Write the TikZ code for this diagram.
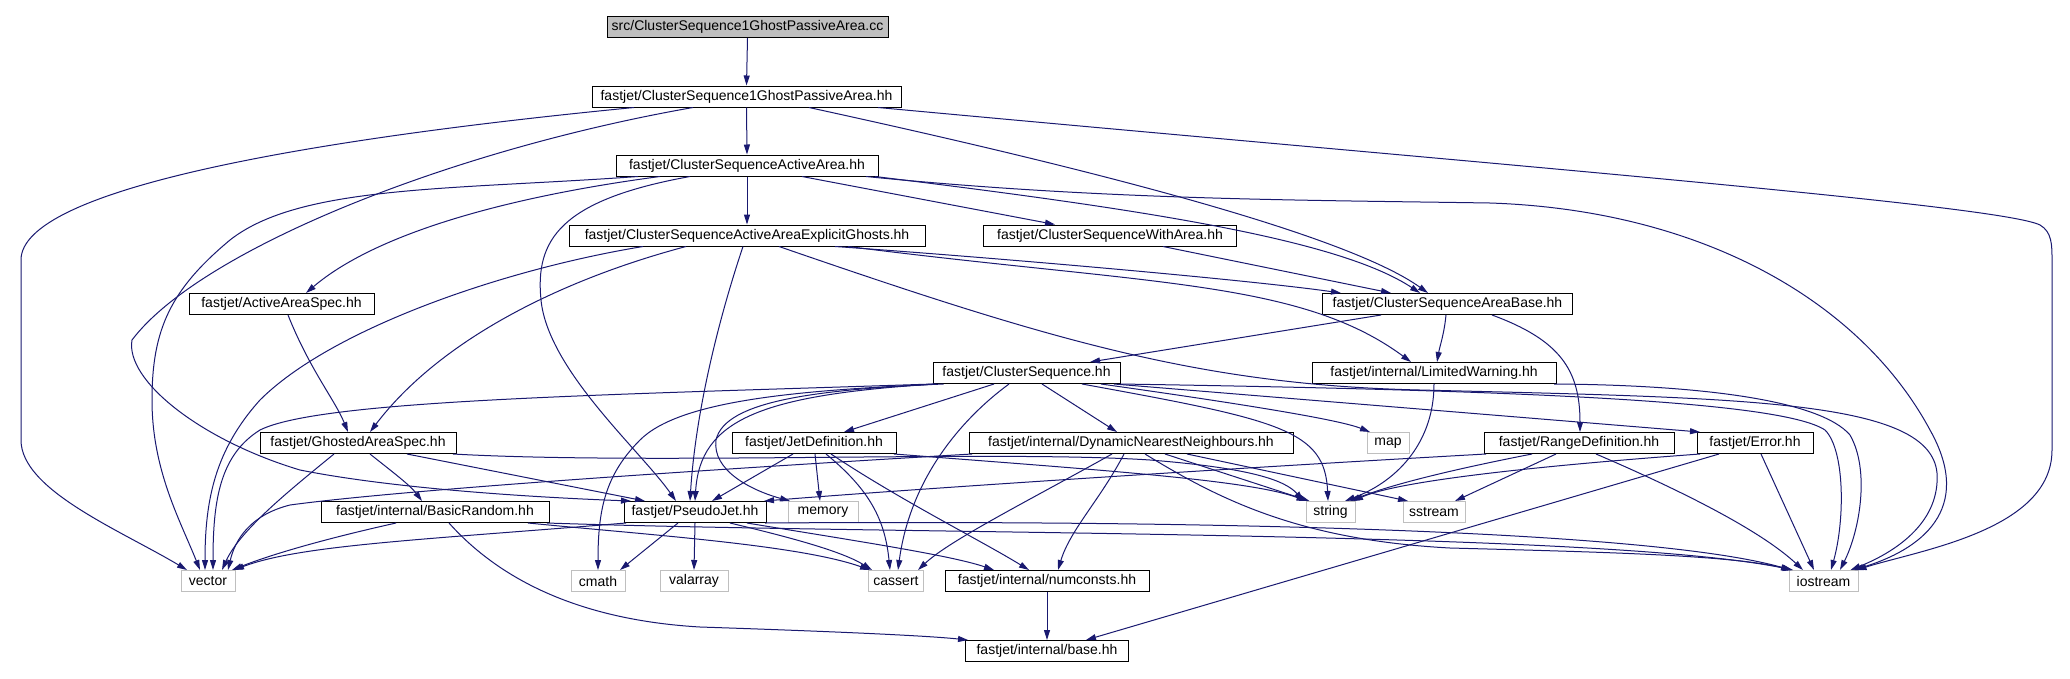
\documentclass[tikz,border=0pt]{standalone}
\usepackage{fontspec}
\setmainfont{Liberation Sans}
\usetikzlibrary{arrows.meta,calc}
\definecolor{mblue}{RGB}{25,25,112}
\definecolor{gline}{RGB}{191,191,191}
\begin{document}
\begin{tikzpicture}[x=1pt,y=-1pt,
 box/.style={draw=black,line width=1pt,minimum height=21pt,inner sep=0pt,font=\fontsize{14}{16}\selectfont},
 sysbox/.style={box,draw=gline},
 dep/.style={draw=mblue,line width=1pt,-{Triangle[length=10pt,width=6pt]}}]
\useasboundingbox[fill=white] (0,0) rectangle (2070,678);
% nodes
\node[box,fill=gline,minimum width=281pt] (cc) at (747.5,27) {src/ClusterSequence1GhostPassiveArea.cc};
\node[box,minimum width=309pt] (gp) at (746.5,96.5) {fastjet/ClusterSequence1GhostPassiveArea.hh};
\node[box,minimum width=262pt] (aa) at (747,165.5) {fastjet/ClusterSequenceActiveArea.hh};
\node[box,minimum width=356pt] (eg) at (747,235.5) {fastjet/ClusterSequenceActiveAreaExplicitGhosts.hh};
\node[box,minimum width=253pt] (wa) at (1110,235.5) {fastjet/ClusterSequenceWithArea.hh};
\node[box,minimum width=185pt] (aas) at (281.5,304) {fastjet/ActiveAreaSpec.hh};
\node[box,minimum width=250pt] (ab) at (1447.5,304) {fastjet/ClusterSequenceAreaBase.hh};
\node[box,minimum width=187pt] (cs) at (1026.5,373) {fastjet/ClusterSequence.hh};
\node[box,minimum width=244pt] (lw) at (1434,373) {fastjet/internal/LimitedWarning.hh};
\node[box,minimum width=196pt] (gas) at (358,443) {fastjet/GhostedAreaSpec.hh};
\node[box,minimum width=164pt] (jd) at (814,443) {fastjet/JetDefinition.hh};
\node[box,minimum width=324pt] (dnn) at (1131,443) {fastjet/internal/DynamicNearestNeighbours.hh};
\node[sysbox,minimum width=42pt] (map) at (1388,443) {map};
\node[box,minimum width=190pt] (rd) at (1579,443) {fastjet/RangeDefinition.hh};
\node[box,minimum width=116pt] (err) at (1755,443) {fastjet/Error.hh};
\node[box,minimum width=228pt] (br) at (435,512) {fastjet/internal/BasicRandom.hh};
\node[box,minimum width=142pt] (pj) at (695,512) {fastjet/PseudoJet.hh};
\node[sysbox,minimum width=70pt] (memory) at (823,512) {memory};
\node[sysbox,minimum width=49pt] (string) at (1330.5,512) {string};
\node[sysbox,minimum width=62pt] (sstream) at (1434,512) {sstream};
\node[sysbox,minimum width=54pt] (vector) at (208,581) {vector};
\node[sysbox,minimum width=54pt] (cmath) at (598,581) {cmath};
\node[sysbox,minimum width=68pt] (valarray) at (694,581) {valarray};
\node[sysbox,minimum width=55pt] (cassert) at (896,581) {cassert};
\node[box,minimum width=204pt] (numconsts) at (1047,581) {fastjet/internal/numconsts.hh};
\node[sysbox,minimum width=69pt] (iostream) at (1823.5,581) {iostream};
\node[box,minimum width=163pt] (base) at (1047,651) {fastjet/internal/base.hh};
% edges
\draw[dep] (cc.south) -- (gp.north);
% gp
\draw[dep] (gp.south) -- (aa.north);
\draw[dep] ($(gp.south)+(-112.5,0)$) .. controls (300,140) and (21,190) .. (21,260) -- (21,440) .. controls (21,490) and (120,530) .. ($(vector.north)+(-21,0)$);
\draw[dep] ($(gp.south)+(-53.5,0)$) .. controls (450,150) and (200,250) .. (132,340) .. controls (125,380) and (200,440) .. (300,470) .. controls (400,490) and (550,498) .. ($(pj.north)+(-64,0)$);
\draw[dep] ($(gp.south)+(62.5,0)$) .. controls (1050,160) and (1340,230) .. ($(ab.north)+(-19.5,0)$);
\draw[dep] ($(gp.south)+(131.5,0)$) .. controls (1500,165) and (2000,205) .. (2040,225) .. controls (2052,232) and (2052,245) .. (2052,260) -- (2052,450) .. controls (2052,530) and (1920,550) .. ($(iostream.north)+(33,0)$);
% aa
\draw[dep] (aa.south) -- (eg.north);
\draw[dep] ($(aa.south)+(-109,0)$) .. controls (450,190) and (300,185) .. (230,240) .. controls (170,290) and (152,330) .. (152,400) .. controls (152,470) and (180,520) .. ($(vector.north)+(-8,0)$);
\draw[dep] ($(aa.south)+(-87,0)$) .. controls (520,195) and (380,230) .. ($(aas.north)+(24.5,0)$);
\draw[dep] ($(aa.south)+(-57,0)$) .. controls (560,200) and (535,240) .. (541,300) .. controls (548,370) and (640,450) .. ($(pj.north)+(-19,0)$);
\draw[dep] ($(aa.south)+(55,0)$) -- ($(wa.north)+(-55,0)$);
\draw[dep] ($(aa.south)+(128,0)$) .. controls (1150,210) and (1340,240) .. ($(ab.north)+(-27.5,0)$);
\draw[dep] ($(aa.south)+(119,0)$) .. controls (1100,200) and (1300,200) .. (1490,203) .. controls (1700,210) and (1860,300) .. (1930,430) .. controls (1975,510) and (1920,550) .. ($(iostream.north)+(30,0)$);
% eg
\draw[dep] ($(eg.south)+(-104,0)$) .. controls (500,270) and (330,330) .. (260,400) .. controls (215,450) and (205,500) .. ($(vector.north)+(-3,0)$);
\draw[dep] ($(eg.south)+(-61,0)$) .. controls (560,280) and (440,340) .. ($(gas.north)+(12,0)$);
\draw[dep] ($(eg.south)+(-4,0)$) .. controls (715,330) and (695,420) .. ($(pj.north)+(-5,0)$);
\draw[dep] ($(eg.south)+(32,0)$) .. controls (1050,340) and (1200,385) .. (1420,390) .. controls (1750,398) and (1930,400) .. (1937,473) .. controls (1940,520) and (1900,550) .. ($(iostream.north)+(27,0)$);
\draw[dep] ($(eg.south)+(88,0)$) .. controls (1000,258) and (1250,280) .. ($(ab.north)+(-106.5,0)$);
\draw[dep] ($(eg.south)+(101,0)$) .. controls (1150,285) and (1300,280) .. ($(lw.north)+(-23,0)$);
% wa, aas
\draw[dep] ($(wa.south)+(53,0)$) -- ($(ab.north)+(-56.5,0)$);
\draw[dep] ($(aas.south)+(6.5,0)$) .. controls (310,370) and (335,400) .. ($(gas.north)+(-10,0)$);
% ab
\draw[dep] ($(ab.south)+(-66.5,0)$) -- ($(cs.north)+(63.5,0)$);
\draw[dep] ($(ab.south)+(-1.5,0)$) .. controls (1444,335) and (1440,345) .. ($(lw.north)+(3,0)$);
\draw[dep] ($(ab.south)+(44.5,0)$) .. controls (1560,340) and (1580,370) .. ($(rd.north)+(1,0)$);
% cs
\draw[dep] ($(cs.south)+(-93,0)$) .. controls (600,395) and (320,400) .. (260,430) .. controls (220,455) and (213,500) .. ($(vector.north)+(5,0)$);
\draw[dep] ($(cs.south)+(-83,0)$) .. controls (800,390) and (680,400) .. (640,440) .. controls (605,475) and (598,510) .. (cmath.north);
\draw[dep] ($(cs.south)+(-91,0)$) .. controls (760,395) and (700,420) .. (pj.north);
\draw[dep] ($(cs.south)+(-89,0)$) .. controls (820,390) and (725,400) .. (716,440) .. controls (712,470) and (750,490) .. ($(memory.north)+(-33,0)$);
\draw[dep] ($(cs.south)+(-32.5,0)$) -- ($(jd.north)+(30,0)$);
\draw[dep] ($(cs.south)+(-17.5,0)$) .. controls (960,420) and (910,480) .. ($(cassert.north)+(2,0)$);
\draw[dep] ($(cs.south)+(15.5,0)$) -- ($(dnn.north)+(-14,0)$);
\draw[dep] ($(cs.south)+(55.5,0)$) .. controls (1280,420) and (1325,430) .. ($(string.north)+(-2.5,0)$);
\draw[dep] ($(cs.south)+(74.5,0)$) .. controls (1250,405) and (1340,420) .. ($(map.north)+(-18,0)$);
\draw[dep] ($(cs.south)+(87.5,0)$) -- ($(err.north)+(-55,0)$);
\draw[dep] ($(cs.south)+(93.5,0)$) .. controls (1500,390) and (1780,400) .. (1825,430) .. controls (1845,450) and (1845,520) .. ($(iostream.north)+(7.5,0)$);
% lw
\draw[dep] (lw.south) .. controls (1434,440) and (1400,480) .. ($(string.north)+(14.5,0)$);
\draw[dep] ($(lw.south)+(120,0)$) .. controls (1700,385) and (1820,400) .. (1850,435) .. controls (1870,470) and (1860,530) .. ($(iostream.north)+(16.5,0)$);
% jd
\draw[dep] ($(jd.south)+(-21,0)$) -- ($(pj.north)+(17,0)$);
\draw[dep] ($(jd.south)+(1,0)$) -- ($(memory.north)+(-3,0)$);
\draw[dep] ($(jd.south)+(12,0)$) .. controls (870,490) and (885,520) .. ($(cassert.north)+(-6,0)$);
\draw[dep] ($(jd.south)+(17,0)$) .. controls (900,500) and (980,540) .. ($(numconsts.north)+(-18,0)$);
\draw[dep] ($(jd.south)+(80,0)$) .. controls (1100,470) and (1250,480) .. ($(string.north)+(-24,0)$);
% dnn
\draw[dep] ($(dnn.south)+(-159,0)$) .. controls (700,470) and (400,490) .. (290,505) .. controls (250,515) and (235,540) .. ($(vector.north)+(20,0)$);
\draw[dep] ($(dnn.south)+(34,0)$) -- ($(string.north)+(-21,0)$);
\draw[dep] ($(dnn.south)+(56,0)$) -- ($(sstream.north)+(-26,0)$);
\draw[dep] ($(dnn.south)+(-19,0)$) .. controls (1030,500) and (950,540) .. ($(cassert.north)+(22,0)$);
\draw[dep] ($(dnn.south)+(-7,0)$) .. controls (1100,500) and (1070,530) .. ($(numconsts.north)+(11,0)$);
\draw[dep] ($(dnn.south)+(14,0)$) .. controls (1220,500) and (1300,540) .. (1450,548) .. controls (1600,552) and (1730,555) .. ($(iostream.north)+(-31.5,0)$);
% rd
\draw[dep] ($(rd.south)+(-93,0)$) .. controls (1200,470) and (900,490) .. ($(pj.north)+(69,0)$);
\draw[dep] ($(rd.south)+(-47,0)$) .. controls (1450,470) and (1390,485) .. ($(string.north)+(19.5,0)$);
\draw[dep] ($(rd.south)+(-23,0)$) -- ($(sstream.north)+(21,0)$);
\draw[dep] ($(rd.south)+(17,0)$) .. controls (1680,490) and (1760,530) .. ($(iostream.north)+(-20.5,0)$);
% err
\draw[dep] ($(err.south)+(-55,0)$) .. controls (1550,465) and (1400,480) .. ($(string.north)+(22.5,0)$);
\draw[dep] ($(err.south)+(-36,0)$) -- ($(base.north)+(39,0)$);
\draw[dep] ($(err.south)+(6,0)$) -- ($(iostream.north)+(-9.5,0)$);
% pj
\draw[dep] ($(pj.south)+(-69,0)$) .. controls (420,540) and (300,545) .. ($(vector.north)+(26,0)$);
\draw[dep] ($(pj.south)+(-17,0)$) -- ($(cmath.north)+(22,0)$);
\draw[dep] (pj.south) -- (valarray.north);
\draw[dep] ($(pj.south)+(35,0)$) .. controls (780,535) and (840,550) .. ($(cassert.north)+(-24,0)$);
\draw[dep] ($(pj.south)+(52,0)$) .. controls (850,540) and (950,555) .. ($(numconsts.north)+(-53,0)$);
\draw[dep] ($(pj.south)+(70,0)$) .. controls (1200,520) and (1650,530) .. ($(iostream.north)+(-32.5,0)$);
% br
\draw[dep] ($(br.south)+(-39,0)$) .. controls (320,540) and (270,555) .. ($(vector.north)+(24,0)$);
\draw[dep] ($(br.south)+(93,0)$) .. controls (650,535) and (800,545) .. ($(cassert.north)+(-26,0)$);
\draw[dep] ($(br.south)+(112,0)$) .. controls (900,535) and (1600,530) .. ($(iostream.north)+(-30.5,0)$);
\draw[dep] ($(br.south)+(14,0)$) .. controls (500,580) and (580,620) .. (700,627) .. controls (850,632) and (930,636) .. ($(base.north)+(-79,0)$);
% numconsts
\draw[dep] (numconsts.south) -- (base.north);
% gas
\draw[dep] ($(gas.south)+(-24,0)$) .. controls (290,490) and (240,530) .. ($(vector.north)+(14,0)$);
\draw[dep] ($(gas.south)+(12,0)$) .. controls (390,470) and (410,485) .. ($(br.north)+(-13,0)$);
\draw[dep] ($(gas.south)+(49,0)$) -- ($(pj.north)+(-50,0)$);
\draw[dep] ($(gas.south)+(95,0)$) .. controls (650,465) and (1000,450) .. (1150,460) .. controls (1250,468) and (1285,480) .. ($(string.north)+(-27,0)$);
\end{tikzpicture}
\end{document}
